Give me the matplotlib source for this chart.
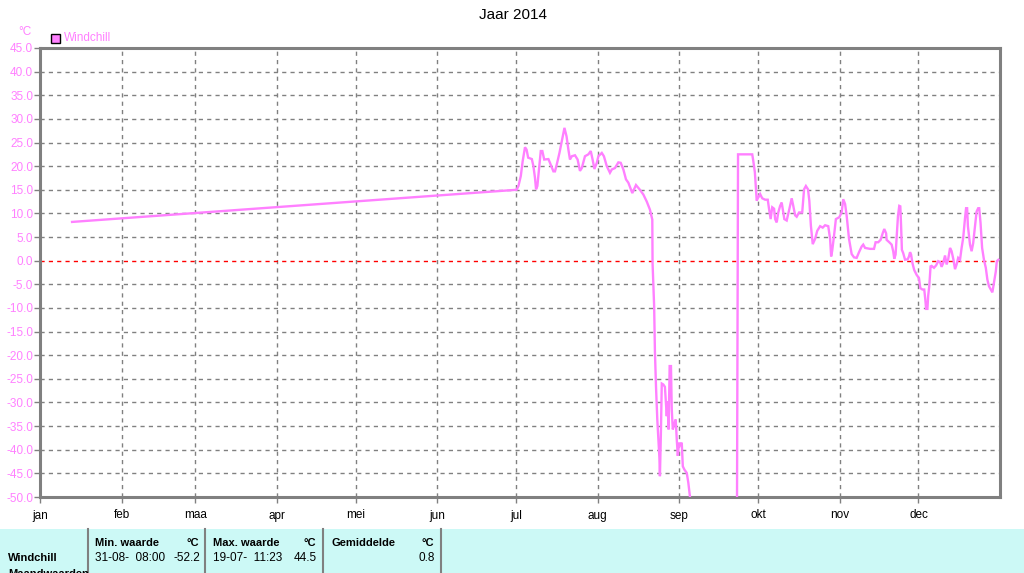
import matplotlib
matplotlib.use('Agg')
import matplotlib.pyplot as plt
from matplotlib.patches import Rectangle
from matplotlib.lines import Line2D

plt.rcParams['font.family'] = ['Liberation Sans', 'DejaVu Sans']

pink = '#ff80ff'
grey = '#808080'

# day of year (0 = 1 jan) and windchill value
days = [12.2, 181.2, 181.9, 182.8, 183.5, 184.4, 185.0, 185.6, 187.0, 187.6,
        188.2, 188.6, 189.1, 189.7, 190.4, 191.0, 191.7, 193.3, 193.9, 195.2,
        195.8, 196.5, 197.5, 198.4, 199.4, 200.2, 200.9, 201.5, 202.2, 203.4,
        204.4, 205.3, 206.0, 207.2, 208.5, 209.4, 210.1, 210.8, 211.7, 212.3,
        213.6, 214.4, 215.5, 216.7, 217.4, 218.6, 219.9, 220.8, 221.8, 222.8,
        223.7, 225.2, 226.6, 228.1, 229.4, 230.7, 231.9, 232.8, 232.9, 233.5,
        233.8, 234.2, 234.7, 235.1, 235.5, 235.7, 236.1, 236.4, 237.0, 237.6,
        238.3, 238.6, 239.0, 239.4, 239.9, 240.2, 240.6, 241.1, 241.7, 242.1,
        242.5, 243.0, 243.3, 244.0, 244.4, 245.0, 245.9, 246.5, 247.1, 247.6,
        265.0, 265.4, 270.8, 271.2, 271.8, 272.5, 273.1, 273.8, 274.6, 275.7,
        276.7, 277.2, 277.8, 278.4, 279.1, 279.5, 280.1, 280.7, 281.4, 282.0,
        282.6, 283.0, 283.9, 284.9, 285.8, 286.4, 287.1, 287.7, 288.6, 289.8,
        290.5, 291.2, 292.0, 292.5, 293.1, 293.8, 294.7, 295.5, 296.6, 297.6,
        298.5, 299.7, 300.4, 300.8, 301.2, 301.9, 302.6, 303.9, 304.8, 305.4,
        306.1, 306.7, 307.6, 308.6, 309.5, 310.5, 311.4, 312.4, 313.0, 313.7,
        315.6, 317.1, 317.7, 318.7, 319.6, 320.4, 321.0, 321.7, 321.9, 322.9,
        323.8, 324.4, 324.8, 325.3, 325.7, 326.2, 326.7, 327.1, 327.4, 327.7,
        328.2, 328.9, 329.9, 330.4, 330.8, 331.2, 331.7, 332.4, 333.3, 334.2,
        334.7, 335.5, 336.2, 336.6, 336.9, 337.4, 337.7, 338.1, 338.6, 339.0,
        339.9, 340.7, 341.5, 342.2, 342.8, 343.4, 344.1, 344.7, 345.3, 346.0,
        346.6, 347.3, 347.9, 348.5, 349.1, 349.8, 350.4, 351.0, 351.7, 352.1,
        352.5, 352.8, 353.6, 354.2, 354.8, 355.5, 356.1, 356.7, 357.1, 357.6,
        358.2, 358.9, 359.6, 360.2, 360.8, 361.5, 362.1, 362.7, 363.4, 363.8,
        364.4]
windchill = [8.2, 15.0, 15.8, 17.9, 21.0, 24.0, 23.5, 21.8, 21.5, 20.0,
             17.5, 15.1, 15.8, 19.3, 23.2, 23.2, 21.4, 21.5, 20.7, 18.9,
             18.9, 20.4, 22.8, 25.3, 28.1, 26.3, 23.5, 21.4, 22.1, 22.3,
             21.4, 19.0, 19.6, 22.1, 22.5, 23.2, 21.4, 19.4, 20.7, 22.1,
             22.8, 22.1, 20.0, 18.6, 19.3, 19.6, 20.8, 20.7, 19.3, 17.2,
             16.5, 14.3, 16.0, 15.0, 14.0, 12.5, 10.8, 8.7, -0.5, -9.6,
             -19.2, -26.5, -33.6, -37.8, -41.7, -45.6, -35.7, -26.0, -26.2, -26.7,
             -32.9, -29.7, -35.7, -22.3, -22.3, -31.5, -35.7, -34.6, -33.6, -37.8,
             -41.3, -38.5, -39.2, -38.5, -43.5, -44.2, -44.9, -47.0, -49.8, -52.2,
             -52.2, 22.5, 22.5, 21.1, 18.7, 12.7, 13.4, 14.1, 13.2, 12.9,
             12.9, 10.9, 8.8, 11.3, 11.0, 8.8, 8.1, 10.2, 11.6, 12.3,
             10.2, 8.8, 8.5, 10.9, 13.2, 11.6, 9.6, 9.3, 10.2, 10.2,
             15.1, 15.8, 15.1, 12.7, 7.4, 3.5, 4.6, 6.3, 7.3, 7.0,
             7.5, 7.3, 4.6, 0.9, 2.1, 5.3, 8.8, 9.2, 10.2, 13.0,
             12.0, 9.5, 4.6, 1.4, 0.7, 0.6, 1.8, 3.0, 3.4, 2.7,
             2.5, 2.5, 3.9, 3.9, 4.4, 5.8, 6.7, 5.8, 4.4, 3.9,
             3.4, 2.0, 0.4, 1.3, 4.8, 9.4, 11.6, 11.5, 7.3, 2.3,
             1.6, 0.2, 0.3, 0.9, 1.8, 1.3, -0.5, -2.0, -3.0, -3.7,
             -5.8, -6.1, -6.1, -8.2, -10.2, -10.2, -7.4, -5.4, -1.2, -1.1,
             -1.5, -1.0, -0.1, -0.3, -1.3, -0.5, 1.1, -0.8, 0.3, 2.7,
             2.0, 0.2, -1.8, -0.8, 0.6, 0.2, 2.7, 4.8, 9.0, 11.1,
             11.1, 7.3, 3.4, 2.0, 3.7, 7.3, 10.4, 11.1, 11.1, 8.0,
             2.7, 0.2, -1.5, -4.0, -5.4, -6.1, -6.7, -4.7, -2.3, -0.1,
             0.2]

month_start = [0, 31, 59, 90, 120, 151, 181, 212, 243, 273, 304, 334]
month_labels = ['jan', 'feb', 'maa', 'apr', 'mei', 'jun', 'jul', 'aug', 'sep', 'okt', 'nov', 'dec']
y_ticks = list(range(-50, 50, 5))

fig = plt.figure(figsize=(10.24, 5.73), dpi=100)
W, H = 1024, 573
ax = fig.add_axes([40 / W, (H - 497) / H, 960 / W, 449 / H])

ax.plot(days, windchill, color=pink, lw=1.7, solid_joinstyle='miter', zorder=3)
ax.set_xlim(0, 365)
ax.set_ylim(-50, 45)

ax.set_xticks(month_start)
ax.set_xticklabels(month_labels, fontsize=8.5, color='black')
ax.set_yticks(y_ticks)
ax.set_yticklabels(['%.1f' % v for v in y_ticks], fontsize=8.5, color=pink)
ax.tick_params(axis='both', colors=grey, length=4, width=1)
ax.tick_params(axis='x', labelcolor='black', pad=5)
ax.tick_params(axis='y', labelcolor=pink, pad=1)

for d in month_start[1:]:
    ax.axvline(d, color=grey, lw=1, ls=(0, (3, 3)), zorder=1)
for v in y_ticks[1:]:
    ax.axhline(v, color='red' if v == 0 else grey, lw=1, ls=(0, (3, 3)), zorder=1)

for s in ax.spines.values():
    s.set_color(grey)
    s.set_linewidth(2.2)

fig.text(513 / W, 1 - 15 / H, 'Jaar 2014', ha='center', va='center', fontsize=11)
fig.text(25 / W, 1 - 32 / H, '°C', ha='center', va='center', fontsize=8.5, color=pink)
fig.add_artist(Rectangle((51 / W, 1 - 43 / H), 9 / W, 9 / H, transform=fig.transFigure,
                         facecolor=pink, edgecolor='black', lw=1))
fig.text(64 / W, 1 - 38 / H, 'Windchill', ha='left', va='center', fontsize=8.5, color=pink)

# summary table at the bottom
fig.add_artist(Rectangle((0, 0), 1, (H - 529) / H, transform=fig.transFigure,
                         facecolor='#ccf9f6', edgecolor='none'))
for xs in [88, 205, 323, 441]:
    fig.add_artist(Line2D([xs / W, xs / W], [0, (H - 529) / H], transform=fig.transFigure,
                          color=grey, lw=1.5))

bold = dict(fontsize=8, fontweight='bold', va='center')
norm = dict(fontsize=8.5, va='center')
y1 = 1 - 543 / H
y2 = 1 - 558 / H
fig.text(8 / W, y2, 'Windchill', ha='left', **bold)
fig.text(8 / W, 1 - 574 / H, 'Maandwaarden', ha='left', **bold)
fig.text(95 / W, y1, 'Min. waarde', ha='left', **bold)
fig.text(199 / W, y1, '°C', ha='right', **bold)
fig.text(95 / W, y2, '31-08-  08:00', ha='left', **norm)
fig.text(200 / W, y2, '-52.2', ha='right', **norm)
fig.text(213 / W, y1, 'Max. waarde', ha='left', **bold)
fig.text(316 / W, y1, '°C', ha='right', **bold)
fig.text(213 / W, y2, '19-07-  11:23', ha='left', **norm)
fig.text(317 / W, y2, '44.5', ha='right', **norm)
fig.text(331 / W, y1, 'Gemiddelde', ha='left', **bold)
fig.text(434 / W, y1, '°C', ha='right', **bold)
fig.text(435 / W, y2, '0.8', ha='right', **norm)

fig.savefig('out.png', dpi=100)
